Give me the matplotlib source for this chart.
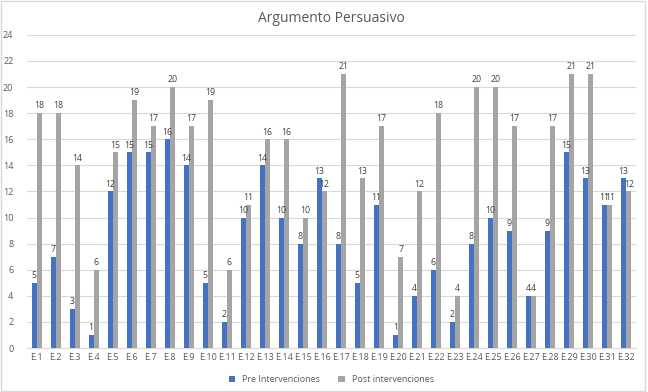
import numpy as np
import matplotlib.pyplot as plt
from matplotlib.patches import Rectangle

labels = ["E." + str(i) for i in range(1, 33)]
pre = [5, 7, 3, 1, 12, 15, 15, 16, 14, 5, 2, 10, 14, 10, 8, 13,
       8, 5, 11, 1, 4, 6, 2, 8, 10, 9, 4, 9, 15, 13, 11, 13]
post = [18, 18, 14, 6, 15, 19, 17, 20, 17, 19, 6, 11, 16, 16, 10, 12,
        21, 13, 17, 7, 12, 18, 4, 20, 20, 17, 4, 17, 21, 21, 11, 12]

plt.rcParams["font.family"] = ["Open Sans", "DejaVu Sans"]

fig = plt.figure(figsize=(6.48, 3.92), dpi=100)
ax = fig.add_axes([0.042, 0.112, 0.939, 0.799])

x = np.arange(len(labels))
w = 0.27
b1 = ax.bar(x - w / 2, pre, w, color="#4472C4", label="Pre Intervenciones", zorder=3)
b2 = ax.bar(x + w / 2, post, w, color="#A5A5A5", label="Post intervenciones", zorder=3)
ax.bar_label(b1, padding=2, fontsize=6.3, color="#404040")
ax.bar_label(b2, padding=2, fontsize=6.3, color="#404040")

ax.set_xlim(-0.5, len(labels) - 0.5)
ax.set_ylim(0, 24)
ax.set_yticks(range(0, 25, 2))
ax.set_xticks(x)
ax.set_xticklabels(labels)
ax.tick_params(axis="both", length=0, labelsize=6.5, colors="#595959")
ax.tick_params(axis="y", pad=10)
ax.grid(axis="y", color="#D9D9D9", linewidth=0.8, zorder=0)
for s in ["top", "right", "left"]:
    ax.spines[s].set_visible(False)
ax.spines["bottom"].set_color("#D9D9D9")

ax.set_title("Argumento Persuasivo", fontsize=10, color="#595959", pad=9)
ax.legend(loc="upper center", bbox_to_anchor=(0.5, -0.06), ncol=2, frameon=False,
          fontsize=6.5, labelcolor="#595959", handlelength=0.7, handleheight=0.7,
          columnspacing=2)

fig.patches.append(Rectangle((0.002, 0.003), 0.994, 0.994, transform=fig.transFigure,
                             fill=False, edgecolor="#D9D9D9", linewidth=1))

fig.savefig("out.png", dpi=100)
